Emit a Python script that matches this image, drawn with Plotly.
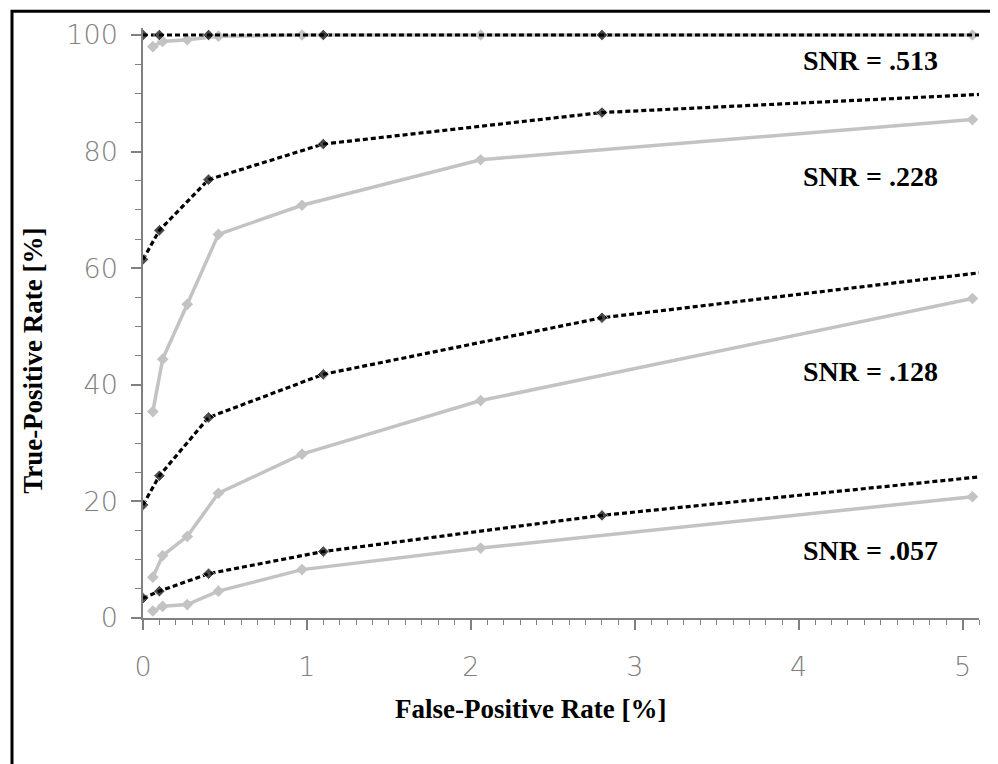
import plotly.graph_objects as go

# False-positive rate positions (%)
fpr_black = [0, 0.1, 0.4, 1.1, 2.8, 5.1]
fpr_gray = [0.06, 0.12, 0.27, 0.46, 0.97, 2.06, 5.06]

# True-positive rates (%) per SNR level
black_513 = [100, 100, 100, 100, 100, 100]
gray_513 = [98.0, 98.9, 99.2, 99.8, 100, 100, 100]
black_228 = [61.5, 66.5, 75.2, 81.3, 86.7, 89.8]
gray_228 = [35.4, 44.4, 53.8, 65.8, 70.8, 78.6, 85.5]
black_128 = [19.4, 24.4, 34.4, 41.8, 51.5, 59.2]
gray_128 = [7.0, 10.7, 14.0, 21.4, 28.1, 37.3, 54.8]
black_057 = [3.4, 4.6, 7.6, 11.4, 17.6, 24.2]
gray_057 = [1.2, 2.0, 2.3, 4.6, 8.3, 12.0, 20.8]

snr_labels = ["SNR = .513", "SNR = .228", "SNR = .128", "SNR = .057"]
snr_label_y = [95.6, 75.7, 42.2, 11.6]
snr_label_x = 4.44

x_ticks = [0, 1, 2, 3, 4, 5]
y_ticks = [0, 20, 40, 60, 80, 100]

fig = go.Figure()

GRAY = "#c3c3c3"
for ys in [gray_513, gray_228, gray_128, gray_057]:
    fig.add_trace(go.Scatter(
        x=fpr_gray, y=ys, mode="lines+markers",
        line=dict(color=GRAY, width=3.5),
        marker=dict(symbol="diamond", size=9, color=GRAY),
        showlegend=False, hoverinfo="skip"))

black_sizes = [9, 9, 9, 9, 9, 0]
for ys in [black_513, black_228, black_128, black_057]:
    fig.add_trace(go.Scatter(
        x=fpr_black, y=ys, mode="lines+markers",
        line=dict(color="black", width=3.2, dash="5px,3px"),
        marker=dict(symbol="diamond", size=black_sizes, color="black"),
        showlegend=False, hoverinfo="skip"))

for t, yv in zip(snr_labels, snr_label_y):
    fig.add_annotation(x=snr_label_x, y=yv, text="<b>%s</b>" % t, showarrow=False,
                       xref="x", yref="y", xanchor="center", yanchor="middle",
                       font=dict(family="Liberation Serif", size=28, color="black"))

fig.add_annotation(x=0.464, y=-0.1537, xref="paper", yref="paper",
                   xanchor="center", yanchor="middle",
                   text="<b>False-Positive Rate [%]</b>", showarrow=False,
                   font=dict(family="Liberation Serif", size=27, color="black"))
fig.add_annotation(x=-0.1316, y=0.4358, xref="paper", yref="paper", textangle=-90,
                   xanchor="center", yanchor="middle",
                   text="<b>True-Positive Rate [%]</b>", showarrow=False,
                   font=dict(family="Liberation Serif", size=27, color="black"))

# outer frame
fig.add_shape(type="rect", xref="paper", yref="paper",
              x0=-0.1567, x1=1.0167, y0=-0.35, y1=1.0285,
              line=dict(color="black", width=3), fillcolor="rgba(0,0,0,0)")

AX = "#808080"
tickfont = dict(family="DejaVu Sans", size=27, color=AX, weight=200)
fig.update_xaxes(range=[0, 5.1], tickvals=x_ticks, ticktext=[str(v) for v in x_ticks],
                 showline=True, linecolor=AX, linewidth=1.5, showgrid=False, zeroline=False,
                 ticks="outside", ticklen=10, tickcolor=AX, tickwidth=1.5,
                 tickfont=tickfont, ticklabelstandoff=14,
                 minor=dict(dtick=0.1, tick0=0, ticks="outside", ticklen=5, tickcolor=AX, tickwidth=1.2))
fig.update_yaxes(range=[0, 101.2], tickvals=y_ticks, ticktext=[str(v) for v in y_ticks],
                 showline=True, linecolor=AX, linewidth=1.5, showgrid=False, zeroline=False,
                 ticks="outside", ticklen=10, tickcolor=AX, tickwidth=1.5,
                 tickfont=tickfont, ticklabelstandoff=8,
                 minor=dict(dtick=5, tick0=0, ticks="outside", ticklen=6, tickcolor=AX, tickwidth=1.2))

fig.update_layout(width=990, height=756, margin=dict(l=135, r=19, t=15, b=145.5),
                  plot_bgcolor="white", paper_bgcolor="white")

fig.write_html("out.html")
